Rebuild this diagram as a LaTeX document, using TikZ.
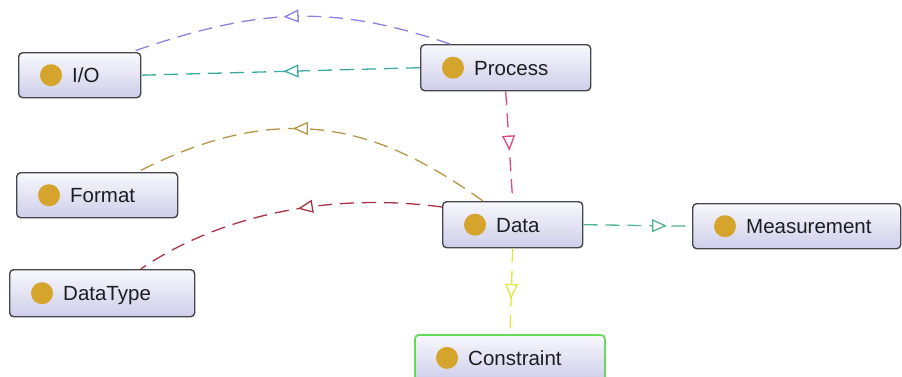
\documentclass[tikz,border=0pt]{standalone}
\usepackage{fontspec}
\setmainfont{Liberation Sans}
\usetikzlibrary{arrows.meta,decorations.markings,calc}
\definecolor{boxline}{RGB}{70,70,76}
\definecolor{boxtop}{RGB}{248,248,253}
\definecolor{boxbot}{RGB}{206,206,234}
\definecolor{gold}{RGB}{212,164,44}
\definecolor{txt}{RGB}{30,30,34}
\definecolor{cpurple}{RGB}{140,130,225}
\definecolor{cteal}{RGB}{60,170,160}
\definecolor{cpink}{RGB}{225,70,130}
\definecolor{colive}{RGB}{180,150,70}
\definecolor{cred}{RGB}{170,50,70}
\definecolor{cgreen}{RGB}{80,180,140}
\definecolor{cyellow}{RGB}{222,232,60}
\definecolor{cborder}{RGB}{100,220,90}
\tikzset{
  cls/.style={draw=boxline, line width=1.4pt, rounded corners=4pt,
    top color=boxtop, bottom color=boxbot, inner sep=0pt, anchor=north west},
  dot/.style={circle, fill=gold, inner sep=0pt, minimum size=22pt},
  lbl/.style={anchor=base west, inner sep=0pt, text=txt,
    font=\fontsize{20.5}{24}\selectfont},
  rel/.style={dash pattern=on 14pt off 8pt, line width=1.3pt},
  midarrow/.style={postaction={decorate, decoration={markings,
    mark=at position #1 with {\arrow{Triangle[length=15pt,width=13pt,fill=white]}}}}},
}
\newcommand\classbox[7][]{%
  \node[cls, minimum width=#5pt, minimum height=#6pt, #1] (#2) at (#3,#4) {};
  \node[dot] (#2-dot) at ([xshift=33pt]#2.west) {};
  \node[lbl] (#2-txt) at ([xshift=54pt,yshift=-7.5pt]#2.west) {#7};
}
\begin{document}
\begin{tikzpicture}[x=1pt,y=-1pt]
\useasboundingbox (0,0) rectangle (902,376);
\classbox{IO}{18}{52}{122}{45}{I/O}
\classbox{P}{420}{44}{170}{46}{Process}
\classbox{F}{16}{172}{161}{45}{Format}
\classbox{D}{442}{201}{140}{46}{Data}
\classbox{M}{692}{203}{208}{45}{Measurement}
\classbox{DT}{9}{269}{185}{47}{DataType}
\classbox[draw=cborder, line width=1.8pt]{C}{414}{334}{190}{46}{Constraint}

\draw[rel, cpurple, midarrow=0.52] ([xshift=30pt]P.north west)
  .. controls (327,2) and (253,10) .. ([xshift=-10pt]IO.north east);
\draw[rel, cteal, midarrow=0.49] (P.west) -- (IO.east);
\draw[rel, cpink, midarrow=0.54] (P.south) -- (D.north);
\draw[rel, colive, midarrow=0.56] ([xshift=41pt]D.north west)
  .. controls (383,130) and (287,95) .. ([xshift=40.5pt]F.north);
\draw[rel, cred, midarrow=0.46] ([yshift=-6pt]D.north west)
  .. controls (330,192) and (220,215) .. ([xshift=38.5pt]DT.north);
\draw[rel, cgreen, midarrow=0.77] (D.east) -- (M.west);
\draw[rel, cyellow, midarrow=0.59] (D.south) -- (C.north);
\end{tikzpicture}
\end{document}
